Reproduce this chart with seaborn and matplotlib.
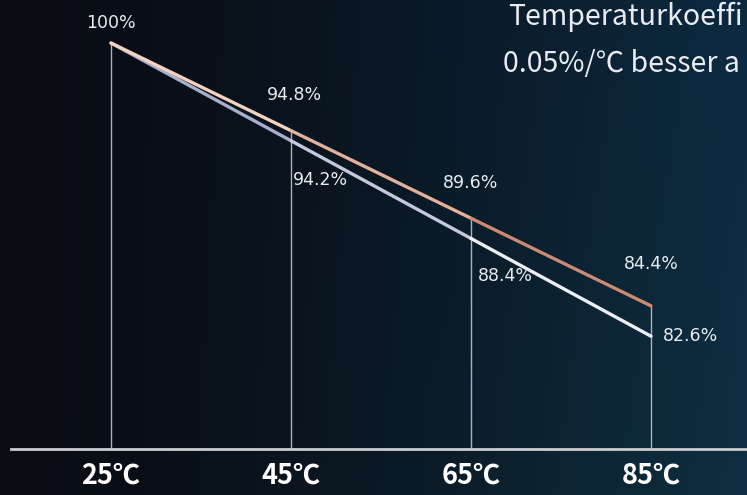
import numpy as np
import matplotlib
matplotlib.use('Agg')
import matplotlib.pyplot as plt
import seaborn as sns

# Chart data
temps = ['25℃', '45℃', '65℃', '85℃']
upper_vals = [100, 94.8, 89.6, 84.4]
lower_vals = [100, 94.2, 88.4, 82.6]
# header as far as it is visible in the original picture
title_lines = ['Temperaturkoeffi', '0.05%/℃ besser a']

sns.set_theme(style='white')
plt.rcParams['font.family'] = ['DejaVu Sans']
cjk = ['Noto Sans CJK SC', 'DejaVu Sans']

W, H = 747, 495
fig = plt.figure(figsize=(W / 100, H / 100), dpi=100)

# Dark blue gradient background
gx = np.linspace(0, 1, 300)[None, :] ** 1.5
gy = np.linspace(0, 1, 200)[:, None]
left = np.array([9, 12, 19]) / 255
right_top = np.array([12, 42, 64]) / 255
right_bot = np.array([14, 48, 66]) / 255
right = right_top + (right_bot - right_top) * gy[..., None]
grad = left + (right - left) * gx[..., None]
bg = fig.add_axes([0, 0, 1, 1], zorder=0)
bg.imshow(grad, aspect='auto', extent=[0, 1, 0, 1], origin='upper')
bg.axis('off')

# Main axes: bottom spine acts as the baseline
ax = fig.add_axes([11 / W, 1 - 449 / H, 1 - 11 / W, 449 / H], zorder=1)
ax.patch.set_alpha(0)

px_per_pct = 16.85
top_px = 43
ymax = 100 + top_px / px_per_pct
ymin = 100 - (449 - top_px) / px_per_pct
ax.set_ylim(ymin, ymax)
ax.set_xlim(-100 / 180, 3 + 96 / 180)

x = np.arange(len(temps))

# vertical guides from the upper point down to the baseline
ax.vlines(x, ymin, np.maximum(upper_vals, lower_vals), color='#a9b3bd', lw=1, zorder=2)

# lines drawn segment by segment to give a colour shift
upper_cols = ['#f3d2bf', '#e3b09a', '#c98a76']
lower_cols = ['#a9aecb', '#c4c8de', '#eceef6']
for i in range(len(temps) - 1):
    sns.lineplot(x=x[i:i + 2], y=upper_vals[i:i + 2], color=upper_cols[i], lw=2.4,
                 ax=ax, zorder=4, solid_capstyle='round')
    sns.lineplot(x=x[i:i + 2], y=lower_vals[i:i + 2], color=lower_cols[i], lw=2.4,
                 ax=ax, zorder=3, solid_capstyle='round')

lab_kw = dict(textcoords='offset pixels', va='center', fontsize=12.5, color='#e9edf1', zorder=5)
ax.annotate(f'{upper_vals[0]:g}%', (x[0], upper_vals[0]), xytext=(0, 20), ha='center', **lab_kw)

upper_off = [(3, 36), (0, 35), (0, 42)]
for xi, v, off in zip(x[1:], upper_vals[1:], upper_off):
    ax.annotate(f'{v:g}%', (xi, v), xytext=off, ha='center', **lab_kw)

lower_off = [(2, -39), (7, -38), (12, 0)]
for xi, v, off in zip(x[1:], lower_vals[1:], lower_off):
    ax.annotate(f'{v:g}%', (xi, v), xytext=off, ha='left', **lab_kw)

# axis styling
for s in ['top', 'right', 'left']:
    ax.spines[s].set_visible(False)
ax.spines['bottom'].set_color('#c9cdd2')
ax.spines['bottom'].set_linewidth(2)
ax.set_xticks(x)
ax.set_xticklabels(temps, fontsize=19.5, fontweight='bold', color='white', family=cjk)
ax.set_yticks([])
ax.tick_params(axis='x', length=0, pad=9)
ax.set_xlabel('')
ax.set_ylabel('')
ax.grid(False)

# header text
fig.text(508 / W, 1 - 25 / H, title_lines[0], fontsize=20.5, color='#e8ecf2',
         va='baseline', family=cjk)
fig.text(503 / W, 1 - 72 / H, title_lines[1], fontsize=20.5, color='#e8ecf2',
         va='baseline', family=cjk)

fig.savefig('out.png', dpi=100)
